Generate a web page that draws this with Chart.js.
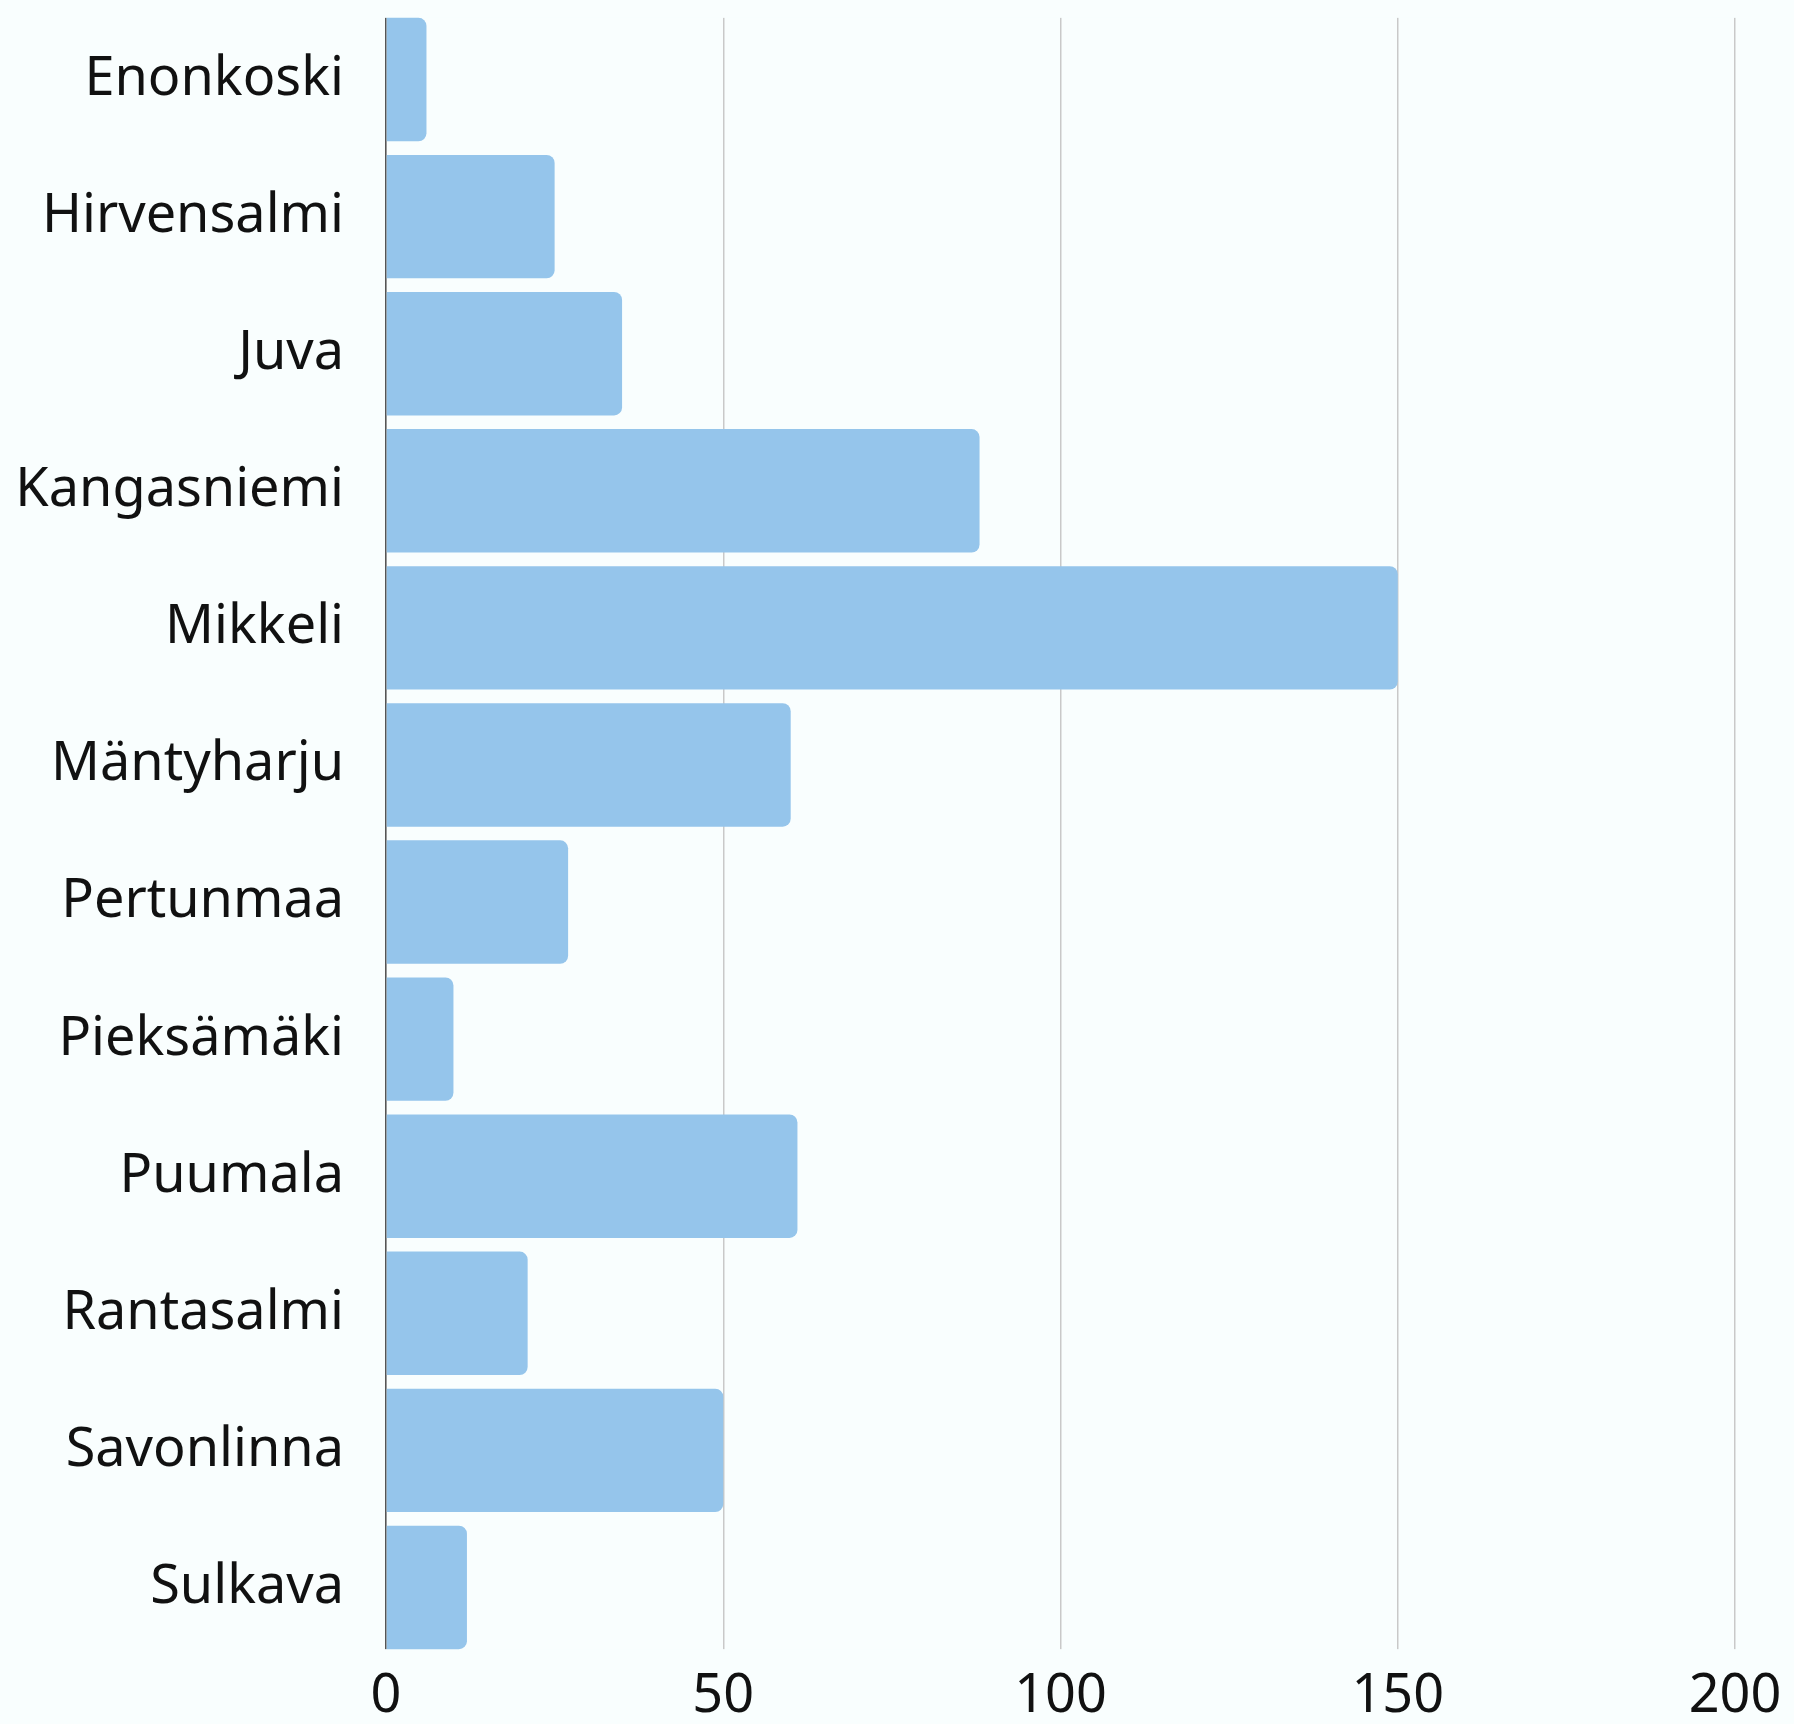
<!DOCTYPE html>
<html>
<head>
<meta charset="utf-8">
<script src="https://cdn.jsdelivr.net/npm/chart.js@4"></script>
<style>
  html, body { margin: 0; padding: 0; background: #f9fefe; }
  #wrap { width: 1794px; height: 1724px; position: relative; }
</style>
</head>
<body>
<div id="wrap"><canvas id="chart"></canvas></div>
<script>
const municipalities = [
  "Enonkoski", "Hirvensalmi", "Juva", "Kangasniemi", "Mikkeli", "Mäntyharju",
  "Pertunmaa", "Pieksämäki", "Puumala", "Rantasalmi", "Savonlinna", "Sulkava"
];
const counts = [6, 25, 35, 88, 150, 60, 27, 10, 61, 21, 50, 12];
const xTicks = [0, 50, 100, 150, 200];

const bgColor = "#f9fefe";
const barColor = "#95c5eb";
const labelFont = { family: "'Noto Sans', sans-serif", size: 54 };
const catPct = 0.9;

// grid lines in the original stop at the outer bar edges, so mask the
// half-gap strip above the first bar and below the last one
const trimGrid = {
  id: "trimGrid",
  beforeDatasetsDraw(chart) {
    const { ctx, chartArea } = chart;
    const band = chartArea.height / municipalities.length;
    const inset = (band * (1 - catPct)) / 2;
    ctx.save();
    ctx.fillStyle = bgColor;
    ctx.fillRect(chartArea.left - 2, chartArea.top - 2, chartArea.width + 4, inset + 2);
    ctx.fillRect(chartArea.left - 2, chartArea.bottom - inset, chartArea.width + 4, inset + 2);
    ctx.restore();
  },
};

const ctx = document.getElementById("chart").getContext("2d");
const chart = new Chart(ctx, {
  type: "bar",
  data: {
    labels: municipalities,
    datasets: [
      {
        data: counts,
        backgroundColor: barColor,
        borderRadius: 8,
        borderSkipped: "start",
        categoryPercentage: catPct,
        barPercentage: 1,
      },
    ],
  },
  options: {
    indexAxis: "y",
    responsive: true,
    maintainAspectRatio: false,
    animation: false,
    layout: { padding: { top: 11, right: 59, bottom: 0, left: 0 } },
    plugins: {
      legend: { display: false },
      tooltip: { enabled: false },
    },
    scales: {
      x: {
        min: xTicks[0],
        max: xTicks[xTicks.length - 1],
        afterBuildTicks: (scale) => {
          scale.ticks = xTicks.map((v) => ({ value: v }));
        },
        afterFit: (scale) => {
          scale.height = 68;
          scale.paddingLeft = 0;
          scale.paddingRight = 0;
        },
        grid: { color: "#c9c9c9", lineWidth: 1.5, drawTicks: false },
        border: { display: false },
        ticks: { color: "#111", font: labelFont, padding: 8 },
      },
      y: {
        afterFit: (scale) => {
          // keep the label column fixed and stop label overflow padding
          scale.width = 386;
          scale.paddingTop = 0;
          scale.paddingBottom = 0;
        },
        grid: { display: false, drawTicks: false },
        border: { display: true, color: "#555", width: 1.5 },
        ticks: { color: "#111", font: labelFont, padding: 42 },
      },
    },
  },
  plugins: [trimGrid],
});
</script>
</body>
</html>
